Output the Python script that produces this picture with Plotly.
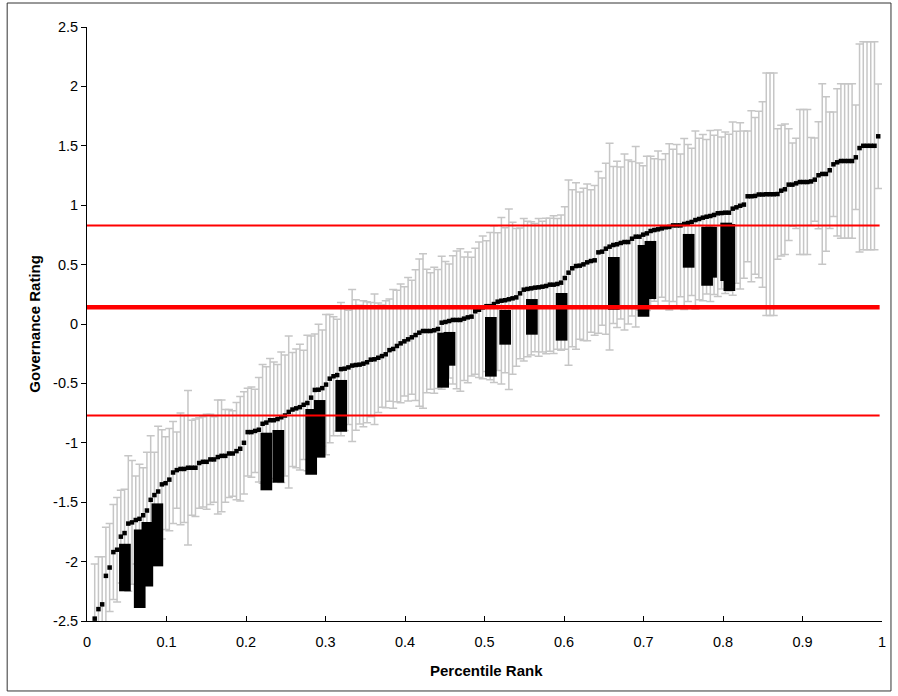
import plotly.graph_objects as go

# ---- data ----
governance = [
    -2.48, -2.40, -2.36, -2.12, -2.05, -1.92, -1.90, -1.79, -1.76, -1.68,
    -1.67, -1.65, -1.64, -1.61, -1.57, -1.48, -1.44, -1.41, -1.35, -1.34,
    -1.31, -1.25, -1.23, -1.22, -1.22, -1.21, -1.21, -1.21, -1.17, -1.16,
    -1.16, -1.14, -1.14, -1.12, -1.11, -1.11, -1.09, -1.09, -1.07, -1.05,
    -1.00, -0.91, -0.91, -0.90, -0.89, -0.84, -0.83, -0.81, -0.81, -0.80,
    -0.785, -0.77, -0.74, -0.72, -0.71, -0.70, -0.68, -0.665, -0.62, -0.555,
    -0.553, -0.54, -0.51, -0.46, -0.44, -0.43, -0.38, -0.376, -0.365, -0.35,
    -0.345, -0.342, -0.334, -0.322, -0.30, -0.297, -0.284, -0.27, -0.255, -0.22,
    -0.21, -0.185, -0.163, -0.146, -0.129, -0.112, -0.093, -0.073, -0.059, -0.059,
    -0.059, -0.053, -0.042, 0.011, 0.017, 0.025, 0.034, 0.034, 0.034, 0.045,
    0.056, 0.062, 0.107, 0.12, 0.14, 0.15, 0.15, 0.168, 0.188, 0.196,
    0.20, 0.208, 0.216, 0.224, 0.258, 0.289, 0.295, 0.30, 0.306, 0.309,
    0.314, 0.32, 0.331, 0.331, 0.337, 0.348, 0.387, 0.432, 0.469, 0.488,
    0.491, 0.502, 0.519, 0.53, 0.536, 0.603, 0.609, 0.634, 0.651, 0.665,
    0.671, 0.682, 0.69, 0.69, 0.718, 0.735, 0.735, 0.752, 0.763, 0.783,
    0.791, 0.797, 0.805, 0.814, 0.817, 0.83, 0.83, 0.83, 0.842, 0.85,
    0.859, 0.875, 0.884, 0.895, 0.903, 0.909, 0.918, 0.932, 0.934, 0.937,
    0.937, 0.971, 0.982, 0.995, 1.005, 1.075, 1.075, 1.078, 1.09, 1.09,
    1.092, 1.092, 1.092, 1.094, 1.122, 1.134, 1.173, 1.173, 1.184, 1.195,
    1.195, 1.195, 1.20, 1.215, 1.252, 1.263, 1.263, 1.294, 1.344, 1.361,
    1.372, 1.372, 1.372, 1.372, 1.403, 1.481, 1.50, 1.50, 1.50, 1.50,
    1.58,
]

margin_of_error = [
    0.46, 0.44, 0.40, 0.41, 0.37, 0.40, 0.44, 0.39, 0.37, 0.57,
    0.52, 0.37, 0.46, 0.40, 0.49, 0.54, 0.36, 0.55, 0.46, 0.39,
    0.43, 0.43, 0.32, 0.47, 0.45, 0.65, 0.40, 0.41, 0.38, 0.38,
    0.40, 0.38, 0.36, 0.48, 0.47, 0.39, 0.37, 0.36, 0.41, 0.44,
    0.43, 0.37, 0.38, 0.35, 0.44, 0.50, 0.47, 0.52, 0.49, 0.46,
    0.55, 0.51, 0.64, 0.48, 0.50, 0.53, 0.46, 0.57, 0.52, 0.47,
    0.55, 0.49, 0.59, 0.54, 0.50, 0.47, 0.56, 0.52, 0.48, 0.64,
    0.55, 0.50, 0.53, 0.51, 0.48, 0.55, 0.46, 0.43, 0.45, 0.43,
    0.50, 0.47, 0.50, 0.46, 0.52, 0.48, 0.55, 0.62, 0.65, 0.52,
    0.49, 0.53, 0.50, 0.56, 0.51, 0.48, 0.54, 0.58, 0.60, 0.52,
    0.55, 0.50, 0.53, 0.57, 0.60, 0.55, 0.62, 0.66, 0.58, 0.70,
    0.61, 0.76, 0.64, 0.58, 0.55, 0.60, 0.57, 0.56, 0.54, 0.58,
    0.55, 0.57, 0.56, 0.58, 0.55, 0.57, 0.60, 0.78, 0.66, 0.70,
    0.62, 0.64, 0.66, 0.60, 0.63, 0.68, 0.62, 0.72, 0.87, 0.66,
    0.70, 0.64, 0.74, 0.69, 0.65, 0.76, 0.62, 0.58, 0.65, 0.63,
    0.60, 0.66, 0.58, 0.62, 0.70, 0.64, 0.68, 0.60, 0.72, 0.66,
    0.62, 0.75, 0.68, 0.70, 0.65, 0.72, 0.67, 0.70, 0.64, 0.68,
    0.66, 0.73, 0.64, 0.70, 0.62, 0.55, 0.72, 0.66, 0.70, 0.78,
    1.02, 1.02, 1.02, 0.55, 0.55, 0.55, 0.47, 0.35, 0.38, 0.61,
    0.61, 0.61, 0.37, 0.35, 0.45, 0.76, 0.65, 0.49, 0.44, 0.62,
    0.65, 0.65, 0.65, 0.65, 0.44, 0.875, 0.875, 0.875, 0.875, 0.875,
    0.44,
]

# percentile rank of each country (evenly spaced ranks)
first_rank = 0.0097
rank_step = 0.004693
percentile_rank = [first_rank + k * rank_step for k in range(len(governance))]

# highlighted ranges (black bars)
bar_rank = [0.0477, 0.0663, 0.0759, 0.0885, 0.2256, 0.2407, 0.282, 0.2926, 0.3198,
            0.448, 0.456, 0.508, 0.526, 0.5596, 0.597, 0.6627, 0.700, 0.7087,
            0.7568, 0.780, 0.785, 0.804, 0.808]
bar_low = [-2.25, -2.39, -2.21, -2.04, -1.40, -1.336, -1.268, -1.125, -0.907,
           -0.536, -0.351, -0.443, -0.174, -0.09, -0.14, 0.12, 0.061, 0.21,
           0.474, 0.322, 0.39, 0.362, 0.278]
bar_high = [-1.85, -1.73, -1.667, -1.51, -0.915, -0.892, -0.716, -0.64, -0.471,
            -0.073, -0.067, 0.059, 0.118, 0.21, 0.261, 0.564, 0.665, 0.699,
            0.758, 0.819, 0.819, 0.853, 0.842]

# red reference lines
ref_levels = [0.83, 0.14, -0.77]
ref_widths = [2, 4.5, 2]
ref_extent = [0.0, 0.997]

y_ticks = [2.5, 2, 1.5, 1, 0.5, 0, -0.5, -1, -1.5, -2, -2.5]
y_tick_text = ["2.5", "2", "1.5", "1", "0.5", "0", "-0.5", "-1", "-1.5", "-2", "-2.5"]
x_ticks = [0, 0.1, 0.2, 0.3, 0.4, 0.5, 0.6, 0.7, 0.8, 0.9, 1]
x_tick_text = ["0", "0.1", "0.2", "0.3", "0.4", "0.5", "0.6", "0.7", "0.8", "0.9", "1"]

FONT = "Liberation Sans, Arial, sans-serif"

fig = go.Figure()

# gray error bars (markers hidden; drawn first)
fig.add_trace(go.Scatter(
    x=percentile_rank, y=governance, mode="markers",
    marker=dict(size=1, color="rgba(0,0,0,0)"),
    error_y=dict(type="data", array=margin_of_error, symmetric=True,
                 color="#c6c6c6", thickness=1.5, width=4),
    hoverinfo="skip",
))

# black bars drawn as thick vertical segments
bx, by = [], []
for c, lo, hi in zip(bar_rank, bar_low, bar_high):
    bx += [c, c, None]
    by += [lo, hi, None]
fig.add_trace(go.Scatter(x=bx, y=by, mode="lines",
                         line=dict(color="black", width=11.7), hoverinfo="skip"))

# point estimates
fig.add_trace(go.Scatter(
    x=percentile_rank, y=governance, mode="markers",
    marker=dict(symbol="square", size=4.5, color="black", line=dict(width=0)),
))

# red lines
for lvl, w in zip(ref_levels, ref_widths):
    fig.add_trace(go.Scatter(x=ref_extent, y=[lvl, lvl], mode="lines",
                             line=dict(color="#ff0000", width=w), hoverinfo="skip"))

fig.update_layout(
    width=898, height=696,
    margin=dict(l=87, r=14, t=27, b=75),
    paper_bgcolor="white", plot_bgcolor="white",
    showlegend=False,
    font=dict(family=FONT, size=14.5, color="black"),
    xaxis=dict(range=[0, 1], tickmode="array", tickvals=x_ticks, ticktext=x_tick_text,
               ticks="inside", ticklen=5, tickcolor="black", showline=True,
               linecolor="black", linewidth=1, showgrid=False, zeroline=False,
               ticklabelstandoff=8,
               tickfont=dict(family=FONT, size=14.5, color="black")),
    yaxis=dict(range=[-2.5, 2.5], tickmode="array", tickvals=y_ticks, ticktext=y_tick_text,
               ticks="outside", ticklen=5, tickcolor="black", showline=True,
               linecolor="black", linewidth=1, showgrid=False, zeroline=False,
               tickfont=dict(family=FONT, size=14.5, color="black")),
    annotations=[
        dict(text="<b>Percentile Rank</b>", xref="paper", yref="paper",
             x=0.502, y=-0.0825, xanchor="center", yanchor="middle",
             showarrow=False, font=dict(family=FONT, size=15, color="black")),
        dict(text="<b>Governance Rating</b>", xref="paper", yref="paper",
             x=-0.0671, y=0.5, xanchor="center", yanchor="middle", textangle=-90,
             showarrow=False, font=dict(family=FONT, size=15, color="black")),
    ],
    shapes=[dict(type="rect", xref="paper", yref="paper",
                 x0=-0.1004, x1=1.0113, y0=-0.1178, y1=1.0404,
                 line=dict(color="#333333", width=1), fillcolor="rgba(0,0,0,0)",
                 layer="below")],
)

fig.write_html("out.html")
